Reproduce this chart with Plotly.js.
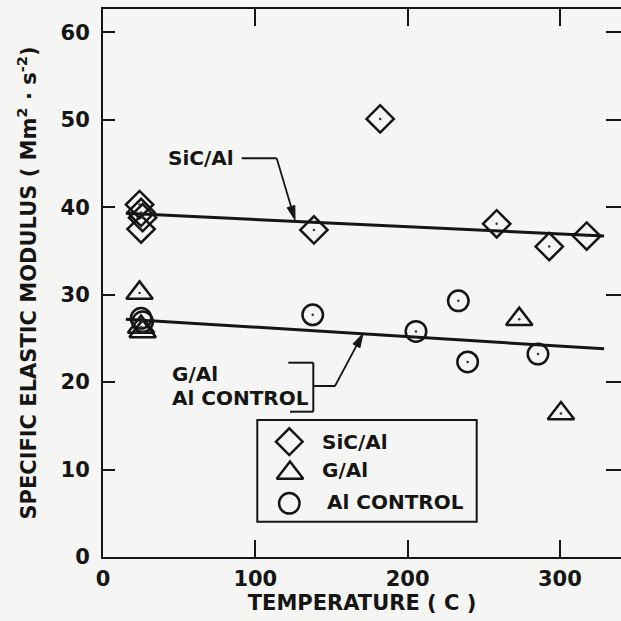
<!DOCTYPE html>
<html>
<head>
<meta charset="utf-8">
<script src="https://cdn.plot.ly/plotly-3.0.1.min.js"></script>
<style>html,body{margin:0;padding:0;background:#f5f5f3;}</style>
</head>
<body>
<div id="chart" style="width:621px;height:621px;"></div>
<script>
// ---- data ----
const sicTemp = [24, 25, 26, 25, 138.5, 182, 258.5, 293, 317.6];
const sicMod  = [40.3, 39.4, 38.8, 37.5, 37.4, 50.1, 38.1, 35.5, 36.7];
const galTemp = [24, 25, 26, 273.3, 300.7];
const galMod  = [30.2, 26.3, 25.8, 27.2, 16.4];
const alTemp  = [25, 26, 137.7, 205.5, 233.3, 239.4, 285.6];
const alMod   = [27.3, 26.9, 27.7, 25.8, 29.3, 22.3, 23.2];
const fitTemp = [15, 329];
const sicFit  = [39.3, 36.7];
const alFit   = [27.2, 23.8];
const xTicks = [0, 100, 200, 300];
const yTicks = [0, 10, 20, 30, 40, 50, 60];
const legendNames = ['SiC/Al', 'G/Al', 'Al CONTROL'];

// ---- layout helpers ----
const L = 103, W = 518, T = 9, H = 548;
const px = v => (v - L) / W;
const py = v => (T + H - v) / H;
const INK = '#151515';
const FONT = {family: 'DejaVu Sans', size: 20, color: INK, weight: 'bold'};
const FONT21 = {family: 'DejaVu Sans', size: 21, color: INK, weight: 'bold'};

function pts(x, y, sym, size, xa, ya) {
  return {x: x, y: y, xaxis: xa || 'x', yaxis: ya || 'y', type: 'scatter', mode: 'markers', cliponaxis: false,
    marker: {symbol: sym, size: size, color: INK, line: {width: 2.5, color: INK}},
    showlegend: false, hoverinfo: 'skip'};
}
function dots(x, y) {
  return {x: x, y: y, type: 'scatter', mode: 'markers', cliponaxis: false,
    marker: {symbol: 'circle', size: 2.5, color: '#333'}, showlegend: false, hoverinfo: 'skip'};
}
function fit(y) {
  return {x: fitTemp, y: y, type: 'scatter', mode: 'lines',
    line: {color: INK, width: 3}, showlegend: false, hoverinfo: 'skip'};
}

const traces = [
  fit(sicFit), fit(alFit),
  pts(sicTemp, sicMod, 'diamond-open', 21),
  pts(galTemp, galMod, 'triangle-up-open', 23),
  pts(alTemp, alMod, 'circle-open', 20.5),
  dots(sicTemp, sicMod), dots(galTemp, galMod), dots(alTemp, alMod),
  // legend key symbols, placed on a pixel-scaled helper axis pair
  pts([289.3], [441.7], 'diamond-open', 20.5, 'x3', 'y3'),
  pts([290], [473], 'triangle-up-open', 23, 'x3', 'y3'),
  pts([289.3], [503.3], 'circle-open', 20.5, 'x3', 'y3'),
  {x: [null], y: [null], yaxis: 'y2', type: 'scatter', mode: 'markers', showlegend: false, hoverinfo: 'skip'}
];

function seg(x0, y0, x1, y1, w) {
  return {type: 'line', xref: 'paper', yref: 'paper', x0: px(x0), x1: px(x1), y0: py(y0), y1: py(y1),
          line: {color: INK, width: w || 2}};
}
// arrow: line from tail to tip plus a filled narrow head
function arrowShapes(tailX, tailY, tipX, tipY) {
  const dx = tipX - tailX, dy = tipY - tailY, len = Math.hypot(dx, dy);
  const ux = dx / len, uy = dy / len, hl = 14, hw = 4;
  const bx = tipX - ux * hl, by = tipY - uy * hl;
  const p1 = [bx - uy * hw, by + ux * hw], p2 = [bx + uy * hw, by - ux * hw];
  const path = 'M' + px(tipX) + ',' + py(tipY) + ' L' + px(p1[0]) + ',' + py(p1[1]) +
               ' L' + px(p2[0]) + ',' + py(p2[1]) + ' Z';
  return [seg(tailX, tailY, bx, by, 1.8),
          {type: 'path', xref: 'paper', yref: 'paper', path: path, fillcolor: INK, line: {color: INK, width: 1}}];
}

const shapes = [
  seg(241.7, 158.3, 276.7, 158.3),
  ...arrowShapes(276.7, 158.3, 295, 220),
  seg(288.3, 362.7, 313.3, 362.7),
  seg(313.3, 362.7, 313.3, 411.7),
  seg(290, 411.7, 313.3, 411.7),
  seg(313.3, 386, 335, 386),
  ...arrowShapes(335, 386, 363, 333.5),
  {type: 'rect', xref: 'paper', yref: 'paper', x0: px(257.3), x1: px(476.7), y0: py(420), y1: py(521.7),
   line: {color: INK, width: 2}, fillcolor: 'rgba(0,0,0,0)'}
];

function label(text, x, y, anchor) {
  return {text: text, xref: 'paper', yref: 'paper', x: px(x), y: py(y), xanchor: anchor || 'center',
          yanchor: 'middle', showarrow: false, font: FONT};
}

const annotations = [
  label('SiC/Al', 200.8, 158.3),
  label('G/Al', 170, 374, 'left'),
  label('Al CONTROL', 170, 397.5, 'left'),
  label(legendNames[0], 320, 441.7, 'left'),
  label(legendNames[1], 320, 470, 'left'),
  label(legendNames[2], 325, 502.3, 'left')
];

const layout = {
  width: 621, height: 621,
  margin: {l: L, r: 621 - L - W, t: T, b: 621 - T - H, pad: 0},
  paper_bgcolor: '#f5f5f3', plot_bgcolor: 'rgba(0,0,0,0)',
  showlegend: false,
  font: FONT,
  xaxis: {range: [0, W / 1.523], tickvals: xTicks, ticktext: xTicks.map(String),
          ticks: 'inside', ticklen: 17, tickwidth: 2, tickcolor: INK,
          showline: true, linewidth: 2, linecolor: INK, mirror: 'ticks',
          showgrid: false, zeroline: false, ticklabelstandoff: 2, tickfont: FONT21,
          title: {text: 'TEMPERATURE ( C )', font: FONT21, standoff: 4}},
  yaxis: {range: [0, H / 8.745], tickvals: yTicks, ticktext: yTicks.map(String),
          ticks: 'inside', ticklen: 12, tickwidth: 2, tickcolor: INK,
          showline: true, linewidth: 2, linecolor: INK, mirror: false,
          showgrid: false, zeroline: false, ticklabelstandoff: 7, tickfont: FONT21,
          title: {text: 'SPECIFIC ELASTIC MODULUS ( Mm<sup>2</sup> · s<sup>-2</sup>)', font: FONT21, standoff: 18}},
  yaxis2: {overlaying: 'y', side: 'right', anchor: 'x', range: [0, H / 8.745], tickvals: yTicks.slice(1),
           ticks: 'inside', ticklen: 15, tickwidth: 2, tickcolor: INK, showticklabels: false,
           showline: false, showgrid: false, zeroline: false},
  xaxis3: {overlaying: 'x', range: [L, L + W], visible: false},
  yaxis3: {overlaying: 'y', range: [T + H, T], visible: false, anchor: 'x3'},
  shapes: shapes,
  annotations: annotations
};

Plotly.newPlot('chart', traces, layout, {staticPlot: true, displayModeBar: false});
</script>
</body>
</html>
